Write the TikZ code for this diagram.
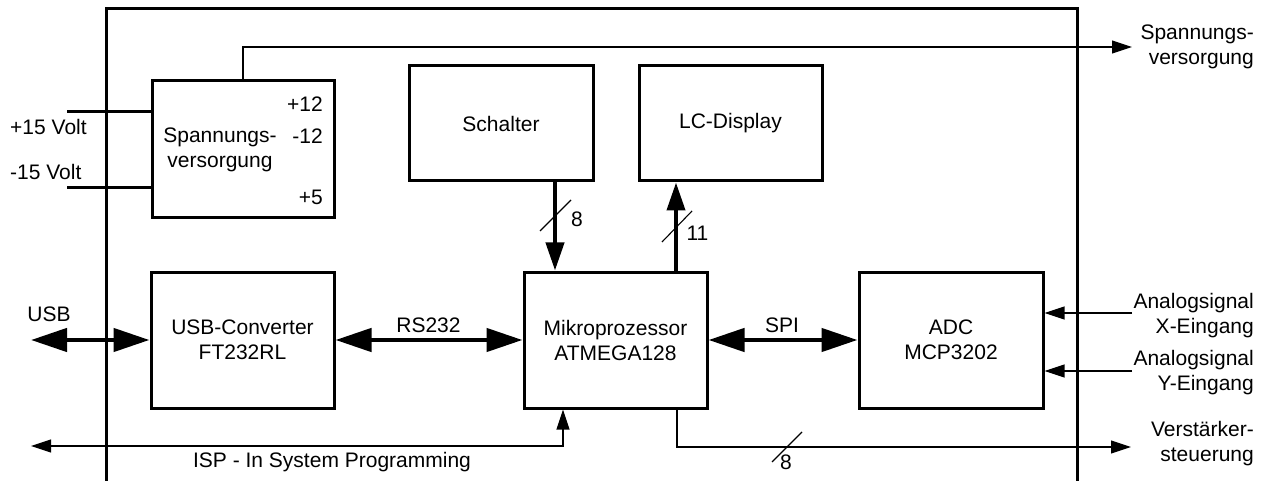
\documentclass[tikz,border=0pt]{standalone}
\usepackage{fontspec}
\setmainfont{Liberation Sans}
\usetikzlibrary{arrows.meta}

\tikzset{
  txt/.style={font=\fontsize{21}{25}\selectfont, inner sep=0pt},
  block/.style={txt, draw, line width=3pt, align=center},
  frame/.style={line width=3pt},
  wire/.style={line width=3pt},
  bus/.style={line width=4.5pt,
    {Triangle[length=36pt,width=23pt]}-{Triangle[length=36pt,width=23pt]}},
  busv/.style={line width=4pt, -{Triangle[length=28pt,width=18pt]}},
  sig/.style={line width=1.1pt},
  sigto/.style={sig, -{Triangle[length=20pt,width=13pt]}},
  sigboth/.style={sig, {Triangle[length=20pt,width=13pt]}-{Triangle[length=20pt,width=13pt]}},
  busmark/.style={line width=1.1pt}
}

\begin{document}
\begin{tikzpicture}[x=1pt, y=-1pt]
  \useasboundingbox (0,0) rectangle (1272,481);

  % device housing, open at the bottom
  \draw[frame] (106,481) -- (106,9) -- (1077,9) -- (1077,481);

  % function blocks
  \node[block, minimum width=182pt, minimum height=137pt] (sv) at (243,149.5) {};
  \node[txt, align=center] (svt) at (220,149.5) {Spannungs-\\versorgung};
  \node[txt, anchor=east] (p12) at (323,104) {+12};
  \node[txt, anchor=east] (m12) at (323,136) {-12};
  \node[txt, anchor=east] (p5) at (323,197) {+5};

  \node[block, minimum width=184pt, minimum height=115pt] (sw) at (501,123.5) {Schalter};
  \node[block, minimum width=183pt, minimum height=115pt] (lc) at (730.5,123.5) {LC-Display};
  \node[block, minimum width=183pt, minimum height=136pt] (usb) at (242.5,340) {USB-Converter\\FT232RL};
  \node[block, minimum width=183pt, minimum height=136pt] (mc) at (615.5,340) {Mikroprozessor\\ATMEGA128};
  \node[block, minimum width=184pt, minimum height=136pt] (adc) at (951,340) {ADC\\MCP3202};

  % helper coordinates for connector columns and free ends
  \coordinate (swx) at (555,0);
  \coordinate (lcx) at (676,0);
  \coordinate (ispx) at (563,0);
  \coordinate (ampx) at (677,0);
  \coordinate (in15p) at (67,112);
  \coordinate (in15m) at (67,188);
  \coordinate (svout) at (1132,47);
  \coordinate (usbend) at (31,340);
  \coordinate (ax) at (1132,313);
  \coordinate (ay) at (1132,371);
  \coordinate (ispend) at (31,446);
  \coordinate (vout) at (1131,447);

  % supply inputs and output
  \draw[wire] (in15p) -- (sv.west |- in15p);
  \draw[wire] (in15m) -- (sv.west |- in15m);
  \node[txt, anchor=west] (l15p) at (10,127) {+15 Volt};
  \node[txt, anchor=west] (l15m) at (10,172) {-15 Volt};
  \draw[sigto] (sv.north) |- (svout);
  \node[txt, anchor=east, align=right] (svlab) at (1254,47) {Spannungs-\\versorgung};

  % switch and display buses
  \draw[busv] (sw.south -| swx) -- (mc.north -| swx);
  \draw[busmark] (540,231) -- (571,200);
  \node[txt] (n8a) at (577,219) {8};
  \draw[busv] (mc.north -| lcx) -- (lc.south -| lcx);
  \draw[busmark] (662,242) -- (692,211);
  \node[txt] (n11) at (697.5,233) {11};

  % serial links
  \draw[bus] (usbend) -- (usb.west);
  \node[txt] (usbl) at (49,314) {USB};
  \draw[bus] (usb.east) -- (mc.west);
  \node[txt] (rsl) at (428.5,325) {RS232};
  \draw[bus] (mc.east) -- (adc.west);
  \node[txt] (spil) at (782,325) {SPI};

  % analog inputs
  \draw[sigto] (ax) -- (adc.east |- ax);
  \draw[sigto] (ay) -- (adc.east |- ay);
  \node[txt, anchor=east, align=right] (axl) at (1254,316) {Analogsignal\\X-Eingang};
  \node[txt, anchor=east, align=right] (ayl) at (1254,373) {Analogsignal\\Y-Eingang};

  % in-system programming
  \draw[sigboth] (ispend) -| (mc.south -| ispx);
  \node[txt] (ispl) at (332,462) {ISP - In System Programming};

  % amplifier control
  \draw[sigto] (mc.south -| ampx) |- (vout);
  \draw[busmark] (772,462) -- (802,432);
  \node[txt] (n8b) at (786,462) {8};
  \node[txt, anchor=east, align=right] (vl) at (1254,444) {Verstärker-\\steuerung};
\end{tikzpicture}
\end{document}
